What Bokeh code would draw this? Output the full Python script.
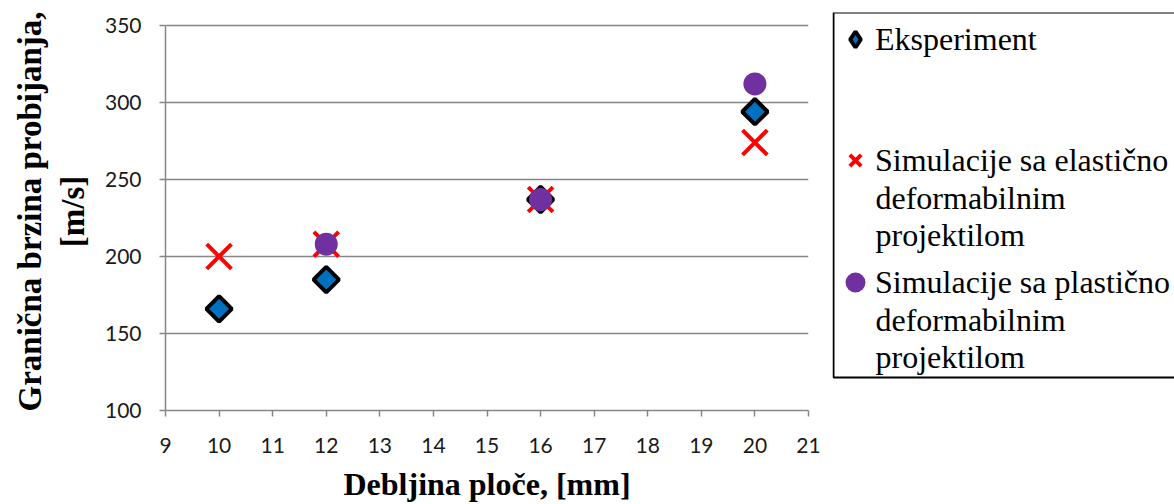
import math
from bokeh.plotting import figure
from bokeh.layouts import row
from bokeh.models import (Range1d, FixedTicker, Legend, LegendItem, Label,
                          BoxAnnotation)
from bokeh.embed import file_html
from bokeh.resources import INLINE

# ---- data ----
thickness_exp = [10, 12, 16, 20]
velocity_exp = [166, 185, 237, 294]
thickness_el = [10, 12, 16, 20]
velocity_el = [200, 208, 237, 274]
thickness_pl = [12, 16, 20]
velocity_pl = [208, 237, 312]
x_ticks = list(range(9, 22))
y_ticks = [100, 150, 200, 250, 300, 350]
name_exp = ["Eksperiment"]
name_el = ["Simulacije sa elastično", "deformabilnim", "projektilom"]
name_pl = ["Simulacije sa plastično", "deformabilnim", "projektilom"]
x_title = "Debljina ploče, [mm]"
y_title = "Granična brzina probijanja,\n[m/s]"

GRID = "#868686"
SERIF = "Liberation Serif"
TICKFONT = "Lato"
BLUE, RED, PURPLE = "#0070C0", "#FF0000", "#7030A0"

# ---- layout geometry (page pixels) ----
H = 504
TOP, BOTTOM = 12, 93            # shared frame borders of both panels
PLOT_TOP = 25                   # where the 350 line sits
FH = H - TOP - BOTTOM           # frame height
Y0, Y1 = y_ticks[0], y_ticks[-1]
# extend the range slightly so that 350 sits at PLOT_TOP while the frame
# starts at TOP (axis line itself is bounded to 100..350)
Y_END = Y1 + (Y1 - Y0) * (PLOT_TOP - TOP) / (FH - (PLOT_TOP - TOP))

# ---------------- main chart ----------------
p = figure(width=832, height=H,
           x_range=Range1d(x_ticks[0], x_ticks[-1]), y_range=Range1d(Y0, Y_END),
           output_backend="svg", toolbar_location=None,
           min_border_left=165, min_border_right=24,
           min_border_top=TOP, min_border_bottom=BOTTOM)
p.outline_line_color = None
p.background_fill_color = "white"
p.border_fill_color = "white"

p.xgrid.visible = False
p.ygrid.grid_line_color = GRID
p.ygrid.grid_line_width = 1.5
p.ygrid.ticker = FixedTicker(ticks=y_ticks)

for ax in (p.xaxis[0], p.yaxis[0]):
    ax.axis_line_color = GRID
    ax.axis_line_width = 1.5
    ax.major_tick_line_color = GRID
    ax.major_tick_line_width = 1.5
    ax.major_tick_out = 6
    ax.major_tick_in = 0
    ax.minor_tick_out = 0
    ax.minor_tick_in = 0
    ax.major_label_text_font = TICKFONT
    ax.major_label_text_font_size = "21px"
    ax.major_label_text_color = "#1a1a1a"
    ax.axis_label_text_font = SERIF
    ax.axis_label_text_font_style = "bold"
    ax.axis_label_text_font_size = "33px"
    ax.axis_label_text_color = "black"

p.xaxis.ticker = FixedTicker(ticks=x_ticks)
p.yaxis.ticker = FixedTicker(ticks=y_ticks)
p.yaxis.bounds = (Y0, Y1)
p.xaxis.axis_label = x_title
p.yaxis.axis_label = y_title
p.xaxis.axis_label_text_font_size = "32px"
p.xaxis.major_label_standoff = 21
p.xaxis.axis_label_standoff = 10
p.yaxis.major_label_standoff = 18
p.yaxis.axis_label_standoff = 11

p.scatter(thickness_exp, velocity_exp, marker="square", size=18,
          angle=math.pi / 4, fill_color=BLUE, line_color="black", line_width=4)
p.scatter(thickness_el, velocity_el, marker="x", size=35,
          line_color=RED, line_width=4)
p.scatter(thickness_pl, velocity_pl, marker="circle", size=19,
          fill_color=PURPLE, line_color=PURPLE, line_width=4)

# ---------------- legend panel ----------------
BOX_TOP, BOX_BOTTOM = 13, 378   # legend box edges (page pixels)
FRAME_BOTTOM = H - BOTTOM
lf = figure(width=342, height=H, x_range=Range1d(0, 1), y_range=Range1d(0, 1),
            output_backend="svg", toolbar_location=None,
            x_axis_type=None, y_axis_type=None,
            min_border_left=0, min_border_right=0,
            min_border_top=TOP, min_border_bottom=BOTTOM)
lf.grid.visible = False
lf.outline_line_color = None
lf.background_fill_color = "white"
lf.border_fill_color = "white"
lf.add_layout(BoxAnnotation(left=1, right=400,
                            top=FRAME_BOTTOM - BOX_TOP,
                            bottom=FRAME_BOTTOM - BOX_BOTTOM,
                            left_units="screen", right_units="screen",
                            top_units="screen", bottom_units="screen",
                            fill_alpha=0, line_color="black", line_width=2,
                            line_alpha=1))

# legend key glyphs (a single NaN point each: never drawn in the panel)
NAN = [float("nan")]
k_exp = lf.scatter(x=NAN, y=NAN, marker="diamond", fill_color=BLUE,
                   line_color="black", line_width=4)
k_el = lf.scatter(x=NAN, y=NAN, marker="x", line_color=RED, line_width=4)
k_pl = lf.scatter(x=NAN, y=NAN, marker="circle", fill_color=PURPLE,
                  line_color=PURPLE, line_width=4)

TEXT_X = 43     # text start from panel left
LINE = 37       # line pitch
FONT = "32px"


def add_entry(names, renderer, center_page_y, G):
    from_top = center_page_y - TOP
    leg = Legend(items=[LegendItem(label=names[0], renderers=[renderer])],
                 location=(TEXT_X - G, FH - from_top - G / 2))
    leg.glyph_width = G
    leg.glyph_height = G
    leg.label_standoff = 0
    leg.label_height = 20
    leg.label_width = 290
    leg.padding = 0
    leg.margin = 0
    leg.spacing = 0
    leg.border_line_color = None
    leg.background_fill_alpha = 0
    leg.label_text_font = SERIF
    leg.label_text_font_size = FONT
    leg.label_text_color = "black"
    leg.label_text_baseline = "middle"
    lf.add_layout(leg, "center")
    for i, extra in enumerate(names[1:], start=1):
        lf.add_layout(Label(x=TEXT_X, y=FH - (from_top + i * LINE),
                            x_units="screen", y_units="screen", text=extra,
                            text_font=SERIF, text_font_size=FONT,
                            text_color="black", text_baseline="middle",
                            text_align="left"))


add_entry(name_exp, k_exp, 40, 40)
add_entry(name_el, k_el, 161, 40)
add_entry(name_pl, k_pl, 283, 40)

layout = row(p, lf, spacing=0)
open("out.html", "w").write(file_html(layout, INLINE))
